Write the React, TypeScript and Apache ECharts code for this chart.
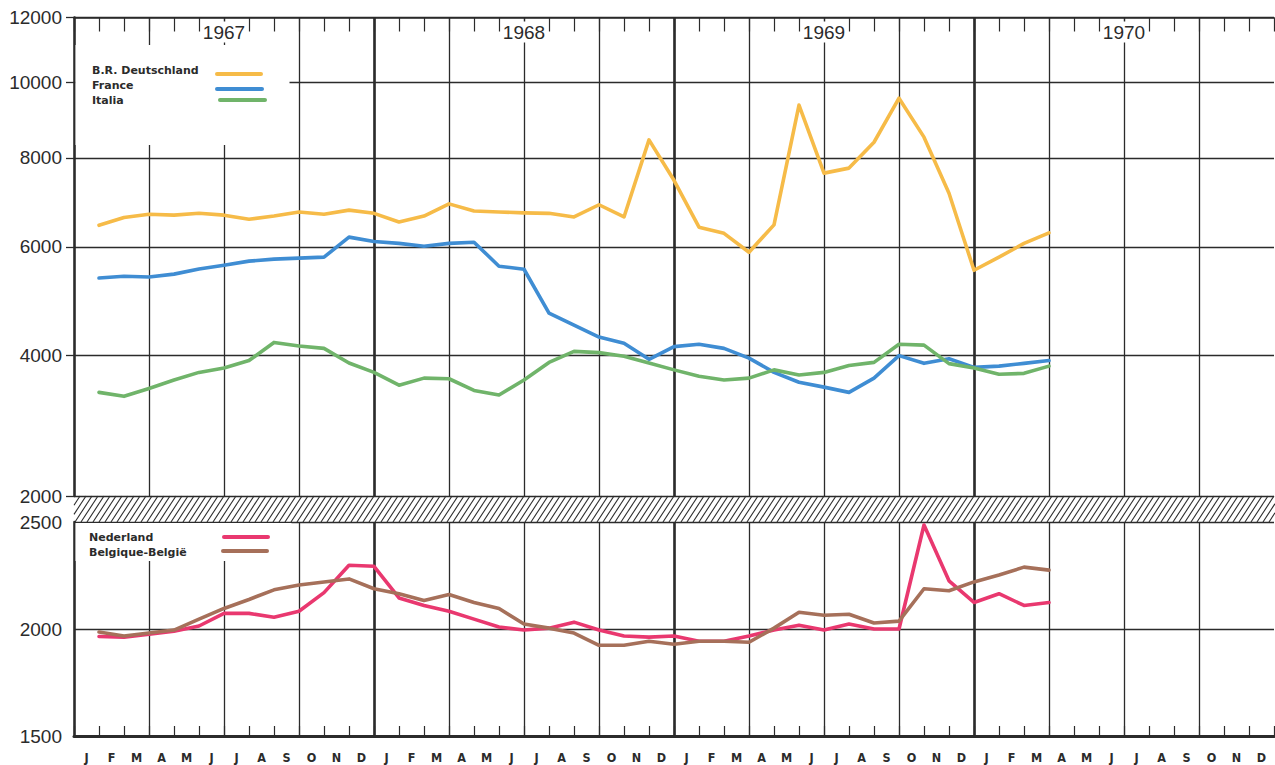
import React, { useEffect, useRef } from 'react';
import * as echarts from 'echarts';

const YEARS = ['1967', '1968', '1969', '1970'];
const MONTH_INITIALS = ['J', 'F', 'M', 'A', 'M', 'J', 'J', 'A', 'S', 'O', 'N', 'D'];
const MONTH_LABELS = YEARS.flatMap(() => MONTH_INITIALS);

const DEUTSCHLAND = [
  6450, 6620, 6690, 6670, 6710, 6670, 6580, 6650, 6740, 6690, 6780, 6710,
  6520, 6650, 6920, 6760, 6740, 6720, 6710, 6630, 6900, 6630, 8450, 7460,
  6410, 6280, 5890, 6460, 9370, 7630, 7750, 8390, 9560, 8520, 7160, 5530,
  5790, 6070, 6290,
];
const FRANCE = [
  5380, 5415, 5400, 5455, 5555, 5630, 5710, 5750, 5770, 5790, 6200, 6110,
  6070, 6010, 6070, 6095, 5610, 5550, 4730, 4515, 4310, 4205, 3940, 4150,
  4190, 4120, 3960, 3730, 3575, 3500, 3420, 3640, 4000, 3875, 3950, 3810,
  3830, 3875, 3920,
];
const ITALIA = [
  3420, 3360, 3480, 3610, 3730, 3800, 3920, 4220, 4160, 4120, 3880, 3730,
  3530, 3640, 3630, 3450, 3380, 3610, 3890, 4070, 4050, 3990, 3880, 3770,
  3670, 3610, 3640, 3770, 3690, 3730, 3840, 3890, 4190, 4175, 3870, 3800,
  3700, 3715, 3830,
];
const NEDERLAND = [
  1965, 1962, 1976, 1990, 2014, 2073, 2073, 2055, 2083, 2170, 2298, 2293,
  2145, 2110, 2083, 2046, 2009, 1995, 2004, 2032, 1995, 1967, 1962, 1967,
  1943, 1943, 1967, 1995, 2018, 1995, 2023, 2000, 2000, 2486, 2225, 2124,
  2165, 2110, 2124,
];
const BELGIQUE = [
  1986, 1967, 1981, 1995, 2046, 2096, 2138, 2183, 2206, 2220, 2234, 2188,
  2165, 2133, 2161, 2124, 2096, 2023, 2004, 1981, 1924, 1924, 1943, 1929,
  1943, 1943, 1938, 2004, 2078, 2064, 2069, 2028, 2037, 2188, 2179, 2220,
  2252, 2289, 2275,
];

const TOP_TICKS = [2000, 4000, 6000, 8000, 10000, 12000];
const BOTTOM_TICKS_INTERVAL = 500;
const BOTTOM_MIN = 1500;
const BOTTOM_MAX = 2500;
const SCALE_OFFSET = 4000;

const TOP_NAMES = ['B.R. Deutschland', 'France', 'Italia'];
const BOTTOM_NAMES = ['Nederland', 'Belgique-België'];

const C_YELLOW = '#f6bb48';
const C_BLUE = '#3f8dd3';
const C_GREEN = '#70b46a';
const C_PINK = '#e9386f';
const C_BROWN = '#a6705a';
const INK = '#2b2b2b';

const NUM_FONT = "'Liberation Sans', Arial, Helvetica, sans-serif";
const BOLD_FONT = "'DejaVu Sans', sans-serif";
const MONTH_FONT = "'Liberation Sans Narrow', 'DejaVu Sans Condensed', 'DejaVu Sans', sans-serif";

const tf = (v: number) => Math.log10(v + SCALE_OFFSET);

// layout
const LEFT = 74;
const WIDTH = 1200;
const TOP_Y = 17.5;
const TOP_H = 478.5;
const BOT_Y = 522;
const BOT_H = 214;
const RIGHT_EDGE = 1275;

export default function App() {
  const ref = useRef<HTMLDivElement | null>(null);

  useEffect(() => {
    document.body.style.margin = '0';
    if (!ref.current) return;
    const chart = echarts.init(ref.current, null, { renderer: 'svg' });

    const toTop = (arr: number[]) => arr.map((v, i) => [i + 1, tf(v)]);
    const toBottom = (arr: number[]) => arr.map((v, i) => [i + 1, v]);
    const months = MONTH_LABELS.length;

    const splitAxis = (gridIndex: number, interval: number, width: number, position: string) => ({
      type: 'value',
      gridIndex,
      min: 0,
      max: months,
      interval,
      position,
      axisLine: { show: false, onZero: false },
      axisTick: { show: false },
      axisLabel: { show: false },
      splitLine: {
        show: true,
        showMinLine: false,
        showMaxLine: false,
        lineStyle: { color: INK, width },
      },
    });

    // hatched band between the two panels
    const bandTop = TOP_Y + TOP_H;
    const bandBot = BOT_Y;
    const dx = 17;
    const step = 6;
    const hatch: any[] = [];
    for (let x = LEFT - dx; x < RIGHT_EDGE; x += step) {
      let x1 = x;
      let y1 = bandBot;
      let x2 = x + dx;
      let y2 = bandTop;
      if (x1 < LEFT) {
        const t = (LEFT - x1) / dx;
        x1 = LEFT;
        y1 = bandBot - t * (bandBot - bandTop);
      }
      if (x2 > RIGHT_EDGE) {
        const t = (x2 - RIGHT_EDGE) / dx;
        x2 = RIGHT_EDGE;
        y2 = bandTop + t * (bandBot - bandTop);
      }
      hatch.push({
        type: 'line',
        silent: true,
        z: 10,
        shape: { x1, y1, x2, y2 },
        style: { stroke: INK, lineWidth: 1.1 },
      });
    }

    const legendText = (text: string, x: number, y: number) => ({
      type: 'text',
      z: 12,
      x,
      y,
      style: {
        text,
        fill: INK,
        font: `bold 11px ${BOLD_FONT}`,
        textVerticalAlign: 'middle',
        verticalAlign: 'middle',
      },
    });
    const legendLine = (color: string, x1: number, x2: number, y: number) => ({
      type: 'line',
      z: 12,
      shape: { x1, y1: y, x2, y2: y },
      style: { stroke: color, lineWidth: 4, lineCap: 'round' },
    });

    const option: any = {
      animation: false,
      backgroundColor: '#ffffff',
      grid: [
        { left: LEFT, top: TOP_Y, width: WIDTH, height: TOP_H, containLabel: false },
        { left: LEFT, top: BOT_Y, width: WIDTH, height: BOT_H, containLabel: false },
      ],
      xAxis: [
        {
          type: 'value',
          gridIndex: 0,
          min: 0,
          max: months,
          interval: 1,
          position: 'top',
          axisLine: { show: true, onZero: false, lineStyle: { color: INK, width: 1.5 } },
          axisTick: { show: true, inside: true, length: 14, lineStyle: { color: INK, width: 1.2 } },
          axisLabel: { show: false },
          splitLine: { show: false },
        },
        splitAxis(0, 3, 1.3, 'top'),
        splitAxis(0, 12, 2.6, 'top'),
        {
          type: 'category',
          gridIndex: 0,
          data: YEARS,
          boundaryGap: true,
          position: 'top',
          z: 3,
          axisLine: { show: false, onZero: false },
          axisTick: { show: false },
          splitLine: { show: false },
          axisLabel: {
            show: true,
            inside: true,
            margin: 4,
            color: INK,
            fontSize: 19,
            fontFamily: NUM_FONT,
            backgroundColor: '#ffffff',
            padding: [1, 2, 1, 2],
          },
        },
        {
          type: 'value',
          gridIndex: 1,
          min: 0,
          max: months,
          interval: 1,
          position: 'bottom',
          axisLine: { show: true, onZero: false, lineStyle: { color: INK, width: 3 } },
          axisTick: { show: true, inside: true, length: 10, lineStyle: { color: INK, width: 1.2 } },
          axisLabel: { show: false },
          splitLine: { show: false },
        },
        splitAxis(1, 3, 1.3, 'bottom'),
        splitAxis(1, 12, 2.6, 'bottom'),
        {
          type: 'category',
          gridIndex: 1,
          data: MONTH_LABELS,
          boundaryGap: true,
          position: 'bottom',
          axisLine: { show: false, onZero: false },
          axisTick: { show: false },
          splitLine: { show: false },
          axisLabel: {
            show: true,
            interval: 0,
            margin: 15,
            color: INK,
            fontSize: 12.5,
            fontWeight: 'bold',
            fontFamily: MONTH_FONT,
          },
        },
      ],
      yAxis: [
        {
          type: 'value',
          gridIndex: 0,
          min: tf(TOP_TICKS[0]),
          max: tf(TOP_TICKS[TOP_TICKS.length - 1]),
          axisLine: { show: true, onZero: false, lineStyle: { color: INK, width: 2.6 } },
          axisTick: {
            show: true,
            customValues: TOP_TICKS.map(tf),
            length: 8,
            lineStyle: { color: INK, width: 1.3 },
          },
          axisLabel: {
            show: true,
            customValues: TOP_TICKS.map(tf),
            formatter: (v: number) => String(Math.round((Math.pow(10, v) - SCALE_OFFSET) / 10) * 10),
            margin: 12,
            color: INK,
            fontSize: 19,
            fontFamily: NUM_FONT,
          },
          splitLine: { show: true, lineStyle: { color: INK, width: 1.3 } },
        },
        {
          type: 'value',
          gridIndex: 1,
          min: BOTTOM_MIN,
          max: BOTTOM_MAX,
          interval: BOTTOM_TICKS_INTERVAL,
          axisLine: { show: true, onZero: false, lineStyle: { color: INK, width: 2.6 } },
          axisTick: { show: false },
          axisLabel: {
            show: true,
            formatter: (v: number) => String(v),
            margin: 12,
            color: INK,
            fontSize: 19,
            fontFamily: NUM_FONT,
          },
          splitLine: { show: true, showMinLine: false, lineStyle: { color: INK, width: 1.3 } },
        },
      ],
      series: [
        { name: TOP_NAMES[0], data: toTop(DEUTSCHLAND), color: C_YELLOW, xAxisIndex: 0, yAxisIndex: 0 },
        { name: TOP_NAMES[1], data: toTop(FRANCE), color: C_BLUE, xAxisIndex: 0, yAxisIndex: 0 },
        { name: TOP_NAMES[2], data: toTop(ITALIA), color: C_GREEN, xAxisIndex: 0, yAxisIndex: 0 },
        { name: BOTTOM_NAMES[0], data: toBottom(NEDERLAND), color: C_PINK, xAxisIndex: 4, yAxisIndex: 1 },
        { name: BOTTOM_NAMES[1], data: toBottom(BELGIQUE), color: C_BROWN, xAxisIndex: 4, yAxisIndex: 1 },
      ].map((s) => ({
        type: 'line',
        name: s.name,
        xAxisIndex: s.xAxisIndex,
        yAxisIndex: s.yAxisIndex,
        data: s.data,
        showSymbol: false,
        symbol: 'none',
        silent: true,
        z: 2,
        itemStyle: { color: s.color },
        lineStyle: { color: s.color, width: 3.6, cap: 'round', join: 'round' },
      })),
      graphic: [
        ...hatch,
        // top legend mask
        {
          type: 'rect',
          z: 11,
          silent: true,
          shape: { x: LEFT + 1.5, y: 45, width: 214, height: 100 },
          style: { fill: '#ffffff' },
        },
        legendText(TOP_NAMES[0], 92, 70),
        legendText(TOP_NAMES[1], 92, 85),
        legendText(TOP_NAMES[2], 92, 100),
        legendLine(C_YELLOW, 217, 261, 74),
        legendLine(C_BLUE, 217, 262, 89),
        legendLine(C_GREEN, 220, 265, 100),
        // bottom legend mask
        {
          type: 'rect',
          z: 11,
          silent: true,
          shape: { x: LEFT + 1.5, y: BOT_Y + 1, width: 216, height: 38 },
          style: { fill: '#ffffff' },
        },
        legendText(BOTTOM_NAMES[0], 89, 537),
        legendText(BOTTOM_NAMES[1], 89, 552),
        legendLine(C_PINK, 224, 268, 537),
        legendLine(C_BROWN, 223, 267, 551),
      ],
    };

    chart.setOption(option);
    return () => {
      chart.dispose();
    };
  }, []);

  return <div ref={ref} style={{ width: 1275, height: 765 }} />;
}
